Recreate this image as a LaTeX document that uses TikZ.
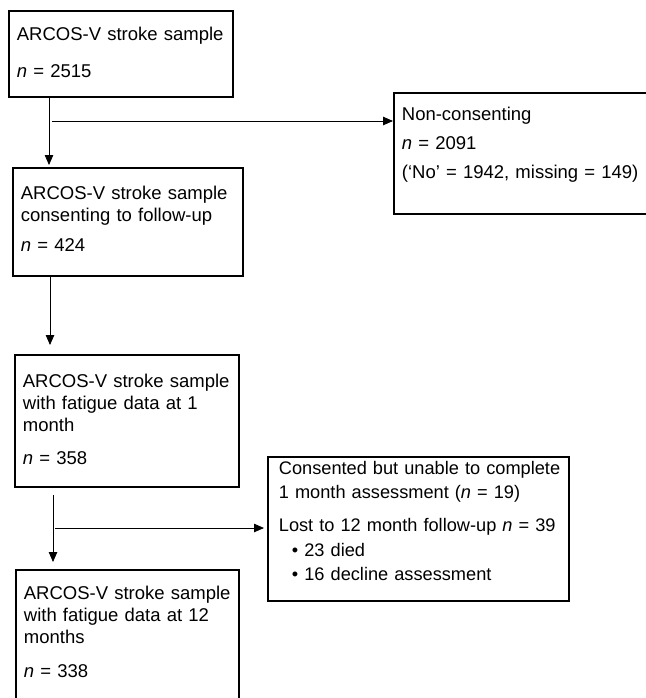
\documentclass[tikz,border=0pt]{standalone}
\usepackage{fontspec}
\setmainfont{Liberation Sans}
\usetikzlibrary{arrows.meta,positioning}

\begin{document}
\begin{tikzpicture}[x=1pt,y=-1pt,
  flowbox/.style={draw, line width=1.8pt, anchor=north west, align=left, inner xsep=8pt, inner ysep=0pt, font=\fontsize{18.5}{22}\selectfont},
  arr/.style={-{Triangle[length=10pt,width=8.5pt]}, line width=0.8pt}
]
\useasboundingbox (0,0) rectangle (645,698);
\node[flowbox, text width=208pt, text height=29.5pt, text depth=56.5pt] (sample) at (8,10)
  {ARCOS-V stroke sample\\[15pt]\textit{n} = 2515};
\node[flowbox, text width=214pt, text height=31.5pt, text depth=76.5pt] (consent) at (12,167)
  {ARCOS-V stroke sample\\consenting to follow-up\\[8pt]\textit{n} = 424};
\node[flowbox, text width=252pt, text height=27.5pt, text depth=93.5pt] (nocons) at (393,92)
  {Non-consenting\\[7pt]\textit{n} = 2091\\[7pt](‘No’ = 1942, missing = 149)};
\node[flowbox, text width=208pt, text height=32.5pt, text depth=99.5pt] (fatigue1) at (14,354)
  {ARCOS-V stroke sample\\with fatigue data at 1\\month\\[11pt]\textit{n} = 358};
\node[flowbox, inner xsep=11pt, text width=279pt, text height=17.5pt, text depth=126.5pt, font=\fontsize{18.2}{22}\selectfont] (lost) at (267,456)
  {\mbox{Consented but unable to complete}\\[2pt]\mbox{1 month assessment (\textit{n} = 19)}\\[11pt]\mbox{Lost to 12 month follow-up \textit{n} = 39}\\[3pt]\hspace*{13pt}\textbullet\ 23 died\\[2pt]\hspace*{13pt}\textbullet\ 16 decline assessment};
\node[flowbox, text width=207pt, text height=29.5pt, text depth=111.5pt] (fatigue12) at (15,569)
  {ARCOS-V stroke sample\\with fatigue data at 12\\months\\[12pt]\textit{n} = 338};
% main flow
\draw[arr, shorten >=2pt] ([xshift=41pt]sample.south west) -- ([xshift=41pt]sample.south west |- consent.north);
\draw[arr, shorten >=9pt] ([xshift=38pt]consent.south west) -- ([xshift=38pt]consent.south west |- fatigue1.north);
\draw[arr, shorten <=7pt, shorten >=7pt] ([xshift=39pt]fatigue1.south west) -- ([xshift=39pt]fatigue1.south west |- fatigue12.north);
% exclusions
\coordinate (split1) at (52,121);
\draw[arr] (split1) -- (split1 -| nocons.west);
\coordinate (split2) at (55,528);
\draw[arr, shorten >=3pt] (split2) -- (split2 -| lost.west);
\end{tikzpicture}
\end{document}
